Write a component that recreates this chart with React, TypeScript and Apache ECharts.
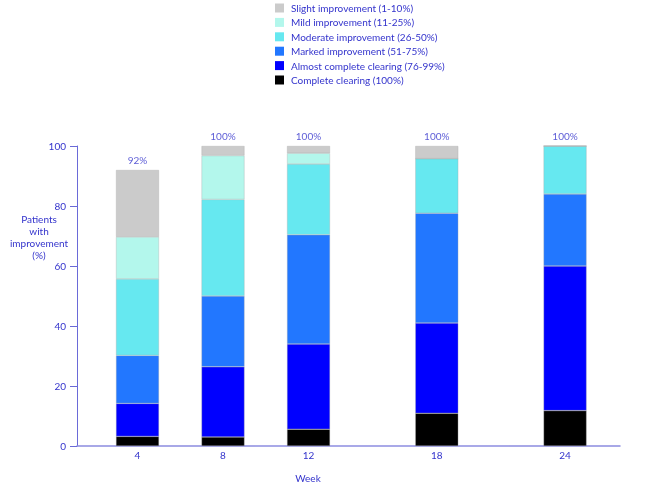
import React, { useEffect, useRef } from "react";
import * as echarts from "echarts";

const weeks = [4, 8, 12, 18, 24];
const seriesNames = [
  "Complete clearing (100%)",
  "Almost complete clearing (76-99%)",
  "Marked improvement (51-75%)",
  "Moderate improvement (26-50%)",
  "Mild improvement (11-25%)",
  "Slight improvement (1-10%)",
];
const complete = [3.2, 3.0, 5.6, 10.9, 11.8];
const almost = [11.0, 23.4, 28.4, 30.1, 48.2];
const marked = [16.0, 23.6, 36.4, 36.6, 24.0];
const moderate = [25.5, 32.2, 23.6, 18.2, 16.0];
const mild = [14.0, 14.6, 3.6, 0, 0];
const slight = [22.3, 3.2, 2.4, 4.2, 0];
const totals = [92, 100, 100, 100, 100];
const totalLabels = ["92%", "100%", "100%", "100%", "100%"];
const colors = ["#000000", "#0000ff", "#2277ff", "#66e8f0", "#b3f7ec", "#cbcbcb"];

const TEXT = "#3333cc";
const AXIS = "#6a6ad8";
const FONT = "Lato";

export default function App() {
  const ref = useRef<HTMLDivElement>(null);
  useEffect(() => {
    const chart = echarts.init(ref.current!, null, { renderer: "svg" });
    const values = [complete, almost, marked, moderate, mild, slight];
    const series: any[] = values.map((arr, i) => ({
      name: seriesNames[i],
      type: "bar",
      stack: "total",
      barWidth: 43,
      encode: { x: 1, y: 0 },
      itemStyle: { color: colors[i], borderColor: "rgba(170,170,170,0.7)", borderWidth: 0.5 },
      data: arr.map((v, j) => [v, weeks[j]]),
    }));
    series.push({
      type: "scatter",
      symbolSize: 0,
      silent: true,
      data: totals.map((t, j) => [weeks[j], t]),
      label: {
        show: true,
        position: "top",
        distance: 5,
        color: TEXT,
        fontSize: 10,
        fontFamily: FONT,
        formatter: (p: any) => totalLabels[p.dataIndex],
      },
    });
    chart.setOption({
      animation: false,
      textStyle: { fontFamily: FONT },
      grid: { left: 77, right: 28, top: 146, bottom: 40, containLabel: false },
      legend: {
        orient: "vertical",
        left: 275,
        top: 2,
        padding: 0,
        icon: "rect",
        itemWidth: 9,
        itemHeight: 9,
        itemGap: 2.4,
        itemStyle: { borderWidth: 0 },
        data: seriesNames.slice().reverse(),
        textStyle: { color: TEXT, fontSize: 10, fontFamily: FONT, padding: [0, 0, 0, 2], lineHeight: 12 },
        selectedMode: false,
      },
      xAxis: {
        type: "value",
        min: 1.17,
        max: 26.57,
        splitLine: { show: false },
        axisLine: { lineStyle: { color: "#8c8ce0", width: 1.5 } },
        axisTick: { show: false },
        axisLabel: {
          customValues: weeks,
          color: TEXT,
          fontSize: 10,
          margin: 4,
        },
      },
      yAxis: {
        type: "value",
        min: 0,
        max: 100,
        interval: 20,
        splitLine: { show: false },
        axisLine: { show: true, lineStyle: { color: AXIS, width: 1 } },
        axisTick: { show: true, length: 7, lineStyle: { color: AXIS } },
        axisLabel: { color: TEXT, fontSize: 10, margin: 11 },
      },
      graphic: [
        {
          type: "text",
          x: 39,
          y: 213,
          style: {
            text: "Patients\nwith\nimprovement\n(%)",
            fill: TEXT,
            fontSize: 10,
            lineHeight: 12,
            align: "center",
            fontFamily: FONT,
          },
        },
        {
          type: "text",
          x: 308,
          y: 473,
          style: { text: "Week", fill: TEXT, fontSize: 10, fontFamily: FONT, align: "center" },
        },
      ],
      series,
    });
    return () => chart.dispose();
  }, []);
  return <div ref={ref} style={{ position: "fixed", left: 0, top: 0, width: 648, height: 486 }} />;
}
